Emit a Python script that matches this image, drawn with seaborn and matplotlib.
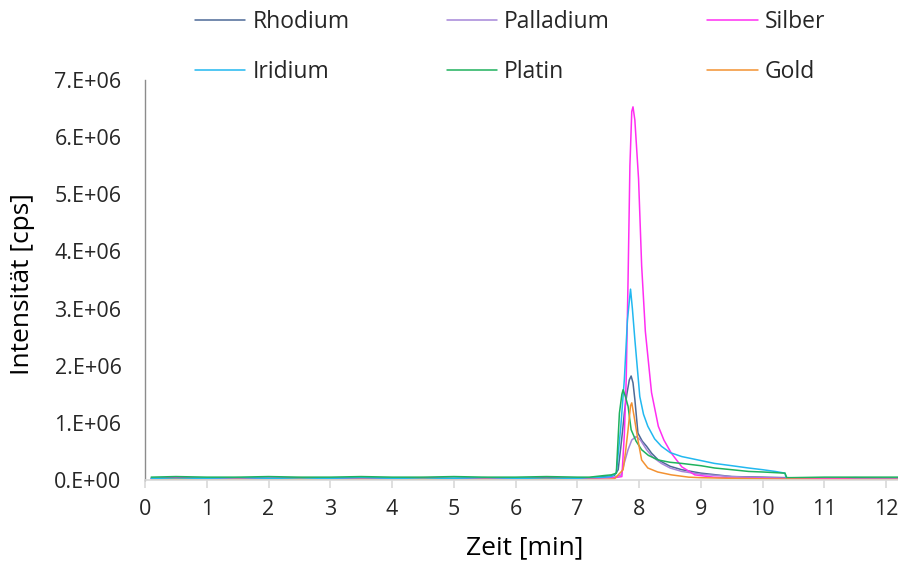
import numpy as np
import pandas as pd
import matplotlib
matplotlib.use("Agg")
import matplotlib.pyplot as plt
import seaborn as sns
from matplotlib.ticker import FuncFormatter

# ---- data (intensity in millions of cps, time in min) ----
elements = ["Rhodium", "Palladium", "Silber", "Iridium", "Platin", "Gold"]
colors = ["#4D6A97", "#A586D8", "#FF2EF2", "#22B8F0", "#1FB25E", "#F39232"]

base_t = [0.1, 0.5, 1.0, 1.5, 2.0, 2.5, 3.0, 3.5, 4.0, 4.5, 5.0, 5.5, 6.0, 6.5, 7.0, 7.2]

rhodium_t = base_t + [7.45, 7.6, 7.66, 7.7, 7.73, 7.76, 7.8, 7.84, 7.87, 7.9, 7.93, 7.98, 8.05, 8.12, 8.2,
                      8.31, 8.5, 8.69, 9.0, 9.5, 10.0, 10.4, 11.0, 11.5, 12.2]
rhodium_v = [0.03, 0.04, 0.03, 0.04, 0.03, 0.04, 0.03, 0.04, 0.03, 0.04, 0.03, 0.04, 0.03, 0.04, 0.03, 0.04,
             0.06, 0.08, 0.18, 0.55, 0.85, 1.17, 1.5, 1.75, 1.82, 1.7, 1.41, 0.82, 0.68, 0.59, 0.47,
             0.35, 0.24, 0.18, 0.12, 0.06, 0.05, 0.04, 0.03, 0.04, 0.03]

palladium_t = base_t + [7.45, 7.6, 7.71, 7.76, 7.82, 7.88, 7.95, 8.02, 8.12, 8.22, 8.36, 8.5, 8.69, 9.0,
                        9.5, 10.0, 10.5, 11.0, 11.5, 12.2]
palladium_v = [0.02, 0.03, 0.02, 0.03, 0.02, 0.03, 0.02, 0.03, 0.02, 0.03, 0.02, 0.03, 0.02, 0.03, 0.02, 0.03,
               0.04, 0.05, 0.09, 0.3, 0.53, 0.7, 0.76, 0.7, 0.53, 0.4, 0.29, 0.21, 0.15, 0.1,
               0.06, 0.04, 0.03, 0.03, 0.02, 0.03]

silber_t = base_t + [7.45, 7.6, 7.72, 7.76, 7.79, 7.82, 7.85, 7.88, 7.9, 7.93, 7.99, 8.04, 8.1, 8.2, 8.31,
                     8.4, 8.52, 8.69, 8.9, 9.2, 9.6, 10.0, 10.5, 11.0, 11.5, 12.2]
silber_v = [0.02, 0.03, 0.02, 0.02, 0.03, 0.02, 0.03, 0.02, 0.02, 0.03, 0.02, 0.03, 0.02, 0.02, 0.03, 0.03,
            0.04, 0.04, 0.06, 0.8, 1.76, 3.5, 5.5, 6.45, 6.53, 6.3, 5.27, 3.75, 2.6, 1.53, 0.94,
            0.7, 0.47, 0.23, 0.09, 0.05, 0.03, 0.03, 0.02, 0.03, 0.02, 0.02]

iridium_t = base_t + [7.45, 7.55, 7.63, 7.7, 7.76, 7.81, 7.86, 7.89, 7.93, 8.01, 8.07, 8.14, 8.25, 8.36,
                      8.5, 8.69, 9.0, 9.22, 9.5, 9.77, 10.0, 10.2, 10.36, 10.39, 11.0, 11.5, 12.2]
iridium_v = [0.03, 0.02, 0.03, 0.04, 0.03, 0.02, 0.03, 0.04, 0.03, 0.02, 0.03, 0.04, 0.03, 0.02, 0.03, 0.04,
             0.05, 0.06, 0.12, 0.9, 1.76, 2.8, 3.34, 3.0, 2.46, 1.46, 1.15, 0.94, 0.72, 0.59,
             0.48, 0.41, 0.34, 0.29, 0.25, 0.21, 0.18, 0.15, 0.12, -0.01, -0.01, 0.01, 0.01]

platin_t = base_t + [7.45, 7.55, 7.63, 7.68, 7.72, 7.74, 7.78, 7.82, 7.87, 7.95, 8.04, 8.15, 8.31, 8.5,
                     8.69, 9.0, 9.22, 9.5, 9.77, 10.0, 10.36, 10.39, 11.0, 11.5, 12.2]
platin_v = [0.05, 0.06, 0.05, 0.05, 0.06, 0.05, 0.05, 0.06, 0.05, 0.05, 0.06, 0.05, 0.05, 0.06, 0.05, 0.05,
            0.08, 0.09, 0.12, 1.17, 1.5, 1.58, 1.45, 1.29, 0.88, 0.68, 0.53, 0.43, 0.35, 0.31,
            0.29, 0.25, 0.21, 0.18, 0.15, 0.14, 0.12, 0.04, 0.05, 0.05, 0.05]

gold_t = base_t + [7.45, 7.6, 7.74, 7.78, 7.82, 7.86, 7.88, 7.92, 7.98, 8.04, 8.14, 8.3, 8.52, 8.8,
                   9.0, 9.5, 10.0, 11.0, 12.2]
gold_v = [0.0, 0.01, 0.0, 0.01, 0.0, 0.01, 0.0, 0.01, 0.0, 0.01, 0.0, 0.01, 0.0, 0.01, 0.0, 0.01,
          0.01, 0.02, 0.18, 0.5, 0.88, 1.3, 1.35, 1.1, 0.7, 0.35, 0.21, 0.14, 0.09, 0.05,
          0.04, 0.03, 0.02, 0.01, 0.01]

x_ticks = list(range(0, 13))
y_ticks = [0, 1e6, 2e6, 3e6, 4e6, 5e6, 6e6, 7e6]

series = {
    "Rhodium": (rhodium_t, rhodium_v),
    "Palladium": (palladium_t, palladium_v),
    "Silber": (silber_t, silber_v),
    "Iridium": (iridium_t, iridium_v),
    "Platin": (platin_t, platin_v),
    "Gold": (gold_t, gold_v),
}
frames = []
for name in elements:
    t, v = series[name]
    frames.append(pd.DataFrame({"Zeit": t, "Intensität": np.array(v) * 1e6, "Element": name}))
df = pd.concat(frames, ignore_index=True)

# ---- style ----
sns.set_style("white")
plt.rcParams["font.family"] = ["Open Sans", "DejaVu Sans"]

fig = plt.figure(figsize=(8.98, 5.63), dpi=100)
ax = fig.add_axes([145 / 898, 83 / 563, 1 - 145 / 898, 400 / 563])

sns.lineplot(data=df, x="Zeit", y="Intensität", hue="Element", hue_order=elements,
             palette=dict(zip(elements, colors)), estimator=None, sort=False,
             linewidth=1.1, ax=ax, legend=False)

ax.set_xlim(0, 12.19)
ax.set_ylim(0, 7e6)
ax.set_xticks(x_ticks)
ax.set_yticks(y_ticks)


def sci_fmt(v, pos):
    if v == 0:
        return "0.E+00"
    e = int(np.floor(np.log10(abs(v))))
    m = v / 10 ** e
    return f"{m:.0f}.E+{e:02d}"


ax.yaxis.set_major_formatter(FuncFormatter(sci_fmt))
ax.tick_params(axis="x", which="major", direction="out", length=6, width=1.2,
               color="#D9D9D9", labelsize=15.5, pad=8, labelcolor="#262626", bottom=True)
ax.tick_params(axis="y", which="major", length=0, labelsize=15.5, pad=17, labelcolor="#262626")

for s in ["top", "right"]:
    ax.spines[s].set_visible(False)
ax.spines["left"].set_color("#8C8C8C")
ax.spines["left"].set_linewidth(1.0)
ax.spines["bottom"].set_color("#D9D9D9")
ax.spines["bottom"].set_linewidth(1.2)
ax.grid(False)

ax.set_xlabel("Zeit [min]", fontsize=19, color="#000000")
ax.set_ylabel("Intensität [cps]", fontsize=19, color="#000000")
ax.xaxis.label.set_va("center")
ax.yaxis.label.set_va("center")
ax.xaxis.set_label_coords((524.5 - 145) / 753, (480 - 548) / 400)
ax.yaxis.set_label_coords((23 - 145) / 753, (480 - 284) / 400)

# legend: columns filled top-to-bottom
leg_order = ["Rhodium", "Iridium", "Palladium", "Platin", "Silber", "Gold"]
handles = [plt.Line2D([], [], color=dict(zip(elements, colors))[n], lw=1.1) for n in leg_order]
fig.legend(handles, leg_order, ncol=3, loc="upper left",
           bbox_to_anchor=(195 / 898, 1 - 10 / 563), frameon=False,
           fontsize=16.5, handlelength=2.2, handletextpad=0.3,
           columnspacing=4.25, labelspacing=1.15, borderpad=0, borderaxespad=0)

fig.savefig("out.png", dpi=100)
